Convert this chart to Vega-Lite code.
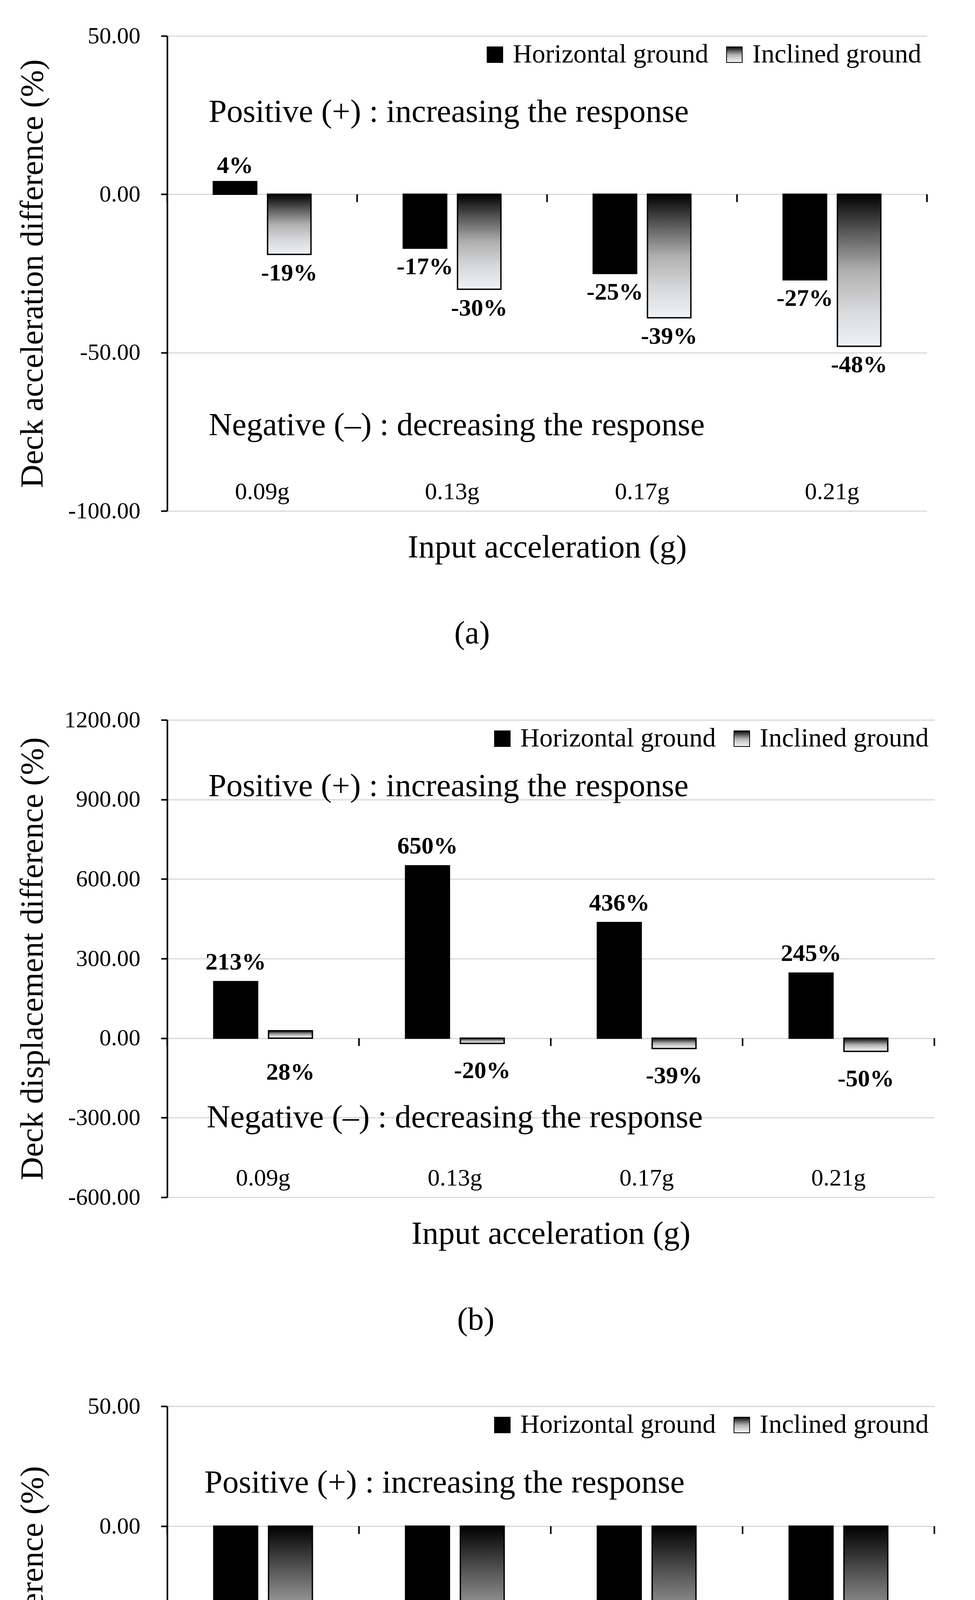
{
  "$schema": "https://vega.github.io/schema/vega-lite/v6.json",
  "background": "white",
  "padding": {"left": 42, "top": 62, "right": 10, "bottom": 5},
  "spacing": 150,
  "datasets": {
    "accel": [
      {"g": "0.09g", "series": "Horizontal ground", "value": 4},
      {"g": "0.09g", "series": "Inclined ground", "value": -19},
      {"g": "0.13g", "series": "Horizontal ground", "value": -17},
      {"g": "0.13g", "series": "Inclined ground", "value": -30},
      {"g": "0.17g", "series": "Horizontal ground", "value": -25},
      {"g": "0.17g", "series": "Inclined ground", "value": -39},
      {"g": "0.21g", "series": "Horizontal ground", "value": -27},
      {"g": "0.21g", "series": "Inclined ground", "value": -48}
    ],
    "disp": [
      {"g": "0.09g", "series": "Horizontal ground", "value": 213},
      {"g": "0.09g", "series": "Inclined ground", "value": 28},
      {"g": "0.13g", "series": "Horizontal ground", "value": 650},
      {"g": "0.13g", "series": "Inclined ground", "value": -20},
      {"g": "0.17g", "series": "Horizontal ground", "value": 436},
      {"g": "0.17g", "series": "Inclined ground", "value": -39},
      {"g": "0.21g", "series": "Horizontal ground", "value": 245},
      {"g": "0.21g", "series": "Inclined ground", "value": -50}
    ],
    "moment": [
      {"g": "0.09g", "series": "Horizontal ground", "value": -72},
      {"g": "0.09g", "series": "Inclined ground", "value": -75},
      {"g": "0.13g", "series": "Horizontal ground", "value": -77},
      {"g": "0.13g", "series": "Inclined ground", "value": -79},
      {"g": "0.17g", "series": "Horizontal ground", "value": -77},
      {"g": "0.17g", "series": "Inclined ground", "value": -82},
      {"g": "0.21g", "series": "Horizontal ground", "value": -77},
      {"g": "0.21g", "series": "Inclined ground", "value": -84}
    ]
  },
  "vconcat": [
    {
      "title": "(a)",
      "width": 1945,
      "height": 1216,
      "data": {"name": "accel"},
      "encoding": {
        "y": {"type": "quantitative", "title": "Deck acceleration difference (%)",
              "scale": {"domain": [-100, 50], "nice": false},
              "axis": {"values": [-100, -50, 0, 50]}}
      },
      "layer": [
        {
          "encoding": {
            "x": {"field": "g", "type": "nominal",
                  "scale": {"paddingInner": 0.486, "paddingOuter": 0.243},
                  "axis": {"title": "Input acceleration (g)"}},
            "xOffset": {"field": "series", "scale": {"paddingInner": 0.2, "paddingOuter": 0}}
          },
          "layer": [
            {
              "mark": {"type": "bar", "stroke": "black", "strokeWidth": 3.5},
              "encoding": {
                "y": {"field": "value"},
                "fill": {"field": "series", "type": "nominal", "title": null,
                         "scale": {"domain": ["Horizontal ground", "Inclined ground"],
                                   "range": ["#000000", {"expr": "{gradient: 'linear', x1: 0, y1: 0, x2: 0, y2: 1, stops: [{offset: 0, color: '#000000'}, {offset: 0.25, color: '#5a5a5a'}, {offset: 0.5, color: '#afafaf'}, {offset: 0.75, color: '#d6d7d9'}, {offset: 1, color: '#eff3f6'}]}"}]}}
              }
            },
            {
              "mark": {"type": "rule", "color": "black", "strokeWidth": 4},
              "encoding": {"y": {"datum": 0}}
            },
            {
              "transform": [{"filter": "datum.value >= 0"}, {"calculate": "datum.value + '%'", "as": "lbl"}],
              "mark": {"type": "text", "fontWeight": "bold", "fontSize": 62, "baseline": "middle", "dy": -41},
              "encoding": {"y": {"field": "value"}, "text": {"field": "lbl"}}
            },
            {
              "transform": [{"filter": "datum.value < 0"}, {"calculate": "datum.value + '%'", "as": "lbl"}],
              "mark": {"type": "text", "fontWeight": "bold", "fontSize": 62, "baseline": "middle", "dy": 48},
              "encoding": {"y": {"field": "value"}, "text": {"field": "lbl"}}
            },
            {
              "data": {"values": [{}]},
              "mark": {"type": "text", "fontSize": 83, "align": "left", "baseline": "middle", "dx": -12},
              "encoding": {"x": {"datum": "0.09g", "bandPosition": 0}, "xOffset": {"value": 0}, "y": {"datum": 26},
                           "text": {"value": "Positive (+) : increasing the response"}}
            },
            {
              "data": {"values": [{}]},
              "mark": {"type": "text", "fontSize": 83, "align": "left", "baseline": "middle", "dx": -12},
              "encoding": {"x": {"datum": "0.09g", "bandPosition": 0}, "xOffset": {"value": 0}, "y": {"datum": -73},
                           "text": {"value": "Negative (–) : decreasing the response"}}
            }
          ]
        },
        {
          "transform": [{"filter": "datum.series == 'Horizontal ground'"}],
          "mark": {"type": "rule", "color": "black", "strokeWidth": 4},
          "encoding": {
            "x": {"field": "g", "type": "nominal", "bandPosition": 0,
                  "scale": {"paddingInner": 0, "paddingOuter": 0}, "axis": null},
            "y": {"datum": 0}, "y2": {"datum": -2.47}
          }
        },
        {
          "transform": [{"filter": "datum.series == 'Horizontal ground' && datum.g == '0.21g'"}],
          "mark": {"type": "rule", "color": "black", "strokeWidth": 4},
          "encoding": {
            "x": {"field": "g", "type": "nominal", "bandPosition": 1,
                  "scale": {"paddingInner": 0, "paddingOuter": 0}, "axis": null},
            "y": {"datum": 0}, "y2": {"datum": -2.47}
          }
        }
      ],
      "resolve": {"scale": {"x": "independent"}}
    },
    {
      "title": "(b)",
      "width": 1964,
      "height": 1222,
      "data": {"name": "disp"},
      "encoding": {
        "y": {"type": "quantitative", "title": "Deck displacement difference (%)",
              "scale": {"domain": [-600, 1200], "nice": false},
              "axis": {"values": [-600, -300, 0, 300, 600, 900, 1200]}}
      },
      "layer": [
        {
          "encoding": {
            "x": {"field": "g", "type": "nominal",
                  "scale": {"paddingInner": 0.486, "paddingOuter": 0.243},
                  "axis": {"title": "Input acceleration (g)"}},
            "xOffset": {"field": "series", "scale": {"paddingInner": 0.2, "paddingOuter": 0}}
          },
          "layer": [
            {
              "mark": {"type": "bar", "stroke": "black", "strokeWidth": 3.5},
              "encoding": {
                "y": {"field": "value"},
                "fill": {"field": "series", "type": "nominal", "title": null,
                         "scale": {"domain": ["Horizontal ground", "Inclined ground"],
                                   "range": ["#000000", {"expr": "{gradient: 'linear', x1: 0, y1: 0, x2: 0, y2: 1, stops: [{offset: 0, color: '#000000'}, {offset: 0.25, color: '#5a5a5a'}, {offset: 0.5, color: '#afafaf'}, {offset: 0.75, color: '#d6d7d9'}, {offset: 1, color: '#eff3f6'}]}"}]}}
              }
            },
            {
              "mark": {"type": "rule", "color": "black", "strokeWidth": 4},
              "encoding": {"y": {"datum": 0}}
            },
            {
              "transform": [{"filter": "datum.series == 'Horizontal ground'"}, {"calculate": "datum.value + '%'", "as": "lbl"}],
              "mark": {"type": "text", "fontWeight": "bold", "fontSize": 62, "baseline": "middle", "dy": -50},
              "encoding": {"y": {"field": "value"}, "text": {"field": "lbl"}}
            },
            {
              "transform": [{"filter": "datum.series == 'Inclined ground' && datum.value < 0"}, {"calculate": "datum.value + '%'", "as": "lbl"}],
              "mark": {"type": "text", "fontWeight": "bold", "fontSize": 62, "baseline": "middle", "dy": 70},
              "encoding": {"y": {"field": "value"}, "text": {"field": "lbl"}}
            },
            {
              "transform": [{"filter": "datum.series == 'Inclined ground' && datum.value >= 0"}, {"calculate": "datum.value + '%'", "as": "lbl"}],
              "mark": {"type": "text", "fontWeight": "bold", "fontSize": 62, "baseline": "middle", "dy": 87},
              "encoding": {"y": {"datum": 0}, "text": {"field": "lbl"}}
            },
            {
              "data": {"values": [{}]},
              "mark": {"type": "text", "fontSize": 83, "align": "left", "baseline": "middle", "dx": -14},
              "encoding": {"x": {"datum": "0.09g", "bandPosition": 0}, "xOffset": {"value": 0}, "y": {"datum": 950},
                           "text": {"value": "Positive (+) : increasing the response"}}
            },
            {
              "data": {"values": [{}]},
              "mark": {"type": "text", "fontSize": 83, "align": "left", "baseline": "middle", "dx": -18},
              "encoding": {"x": {"datum": "0.09g", "bandPosition": 0}, "xOffset": {"value": 0}, "y": {"datum": -299},
                           "text": {"value": "Negative (–) : decreasing the response"}}
            }
          ]
        },
        {
          "transform": [{"filter": "datum.series == 'Horizontal ground'"}],
          "mark": {"type": "rule", "color": "black", "strokeWidth": 4},
          "encoding": {
            "x": {"field": "g", "type": "nominal", "bandPosition": 0,
                  "scale": {"paddingInner": 0, "paddingOuter": 0}, "axis": null},
            "y": {"datum": 0}, "y2": {"datum": -29.5}
          }
        },
        {
          "transform": [{"filter": "datum.series == 'Horizontal ground' && datum.g == '0.21g'"}],
          "mark": {"type": "rule", "color": "black", "strokeWidth": 4},
          "encoding": {
            "x": {"field": "g", "type": "nominal", "bandPosition": 1,
                  "scale": {"paddingInner": 0, "paddingOuter": 0}, "axis": null},
            "y": {"datum": 0}, "y2": {"datum": -29.5}
          }
        }
      ],
      "resolve": {"scale": {"x": "independent"}}
    },
    {
      "title": "(c)",
      "width": 1964,
      "height": 1228,
      "data": {"name": "moment"},
      "encoding": {
        "y": {"type": "quantitative", "title": "Pile moment difference (%)",
              "scale": {"domain": [-150, 50], "nice": false},
              "axis": {"values": [-150, -100, -50, 0, 50]}}
      },
      "layer": [
        {
          "encoding": {
            "x": {"field": "g", "type": "nominal",
                  "scale": {"paddingInner": 0.486, "paddingOuter": 0.243},
                  "axis": {"title": "Input acceleration (g)"}},
            "xOffset": {"field": "series", "scale": {"paddingInner": 0.2, "paddingOuter": 0}}
          },
          "layer": [
            {
              "mark": {"type": "bar", "stroke": "black", "strokeWidth": 3.5},
              "encoding": {
                "y": {"field": "value"},
                "fill": {"field": "series", "type": "nominal", "title": null,
                         "scale": {"domain": ["Horizontal ground", "Inclined ground"],
                                   "range": ["#000000", {"expr": "{gradient: 'linear', x1: 0, y1: 0, x2: 0, y2: 1, stops: [{offset: 0, color: '#000000'}, {offset: 0.25, color: '#5a5a5a'}, {offset: 0.5, color: '#afafaf'}, {offset: 0.75, color: '#d6d7d9'}, {offset: 1, color: '#f9f9f9'}]}"}]}}
              }
            },
            {
              "mark": {"type": "rule", "color": "black", "strokeWidth": 4},
              "encoding": {"y": {"datum": 0}}
            },
            {
              "transform": [{"filter": "datum.series == 'Horizontal ground'"}, {"calculate": "datum.value + '%'", "as": "lbl"}],
              "mark": {"type": "text", "fontWeight": "bold", "fontSize": 62, "baseline": "middle", "dy": 38},
              "encoding": {"y": {"field": "value"}, "text": {"field": "lbl"}}
            },
            {
              "transform": [{"filter": "datum.series == 'Inclined ground'"}, {"calculate": "datum.value + '%'", "as": "lbl"}],
              "mark": {"type": "text", "fontWeight": "bold", "fontSize": 62, "baseline": "middle", "dy": 70},
              "encoding": {"y": {"field": "value"}, "text": {"field": "lbl"}}
            },
            {
              "data": {"values": [{}]},
              "mark": {"type": "text", "fontSize": 83, "align": "left", "baseline": "middle", "dx": -24},
              "encoding": {"x": {"datum": "0.09g", "bandPosition": 0}, "xOffset": {"value": 0}, "y": {"datum": 18},
                           "text": {"value": "Positive (+) : increasing the response"}}
            },
            {
              "data": {"values": [{}]},
              "mark": {"type": "text", "fontSize": 83, "align": "left", "baseline": "middle", "dx": -27},
              "encoding": {"x": {"datum": "0.09g", "bandPosition": 0}, "xOffset": {"value": 0}, "y": {"datum": -113},
                           "text": {"value": "Negative (–) : decreasing the response"}}
            }
          ]
        },
        {
          "transform": [{"filter": "datum.series == 'Horizontal ground'"}],
          "mark": {"type": "rule", "color": "black", "strokeWidth": 4},
          "encoding": {
            "x": {"field": "g", "type": "nominal", "bandPosition": 0,
                  "scale": {"paddingInner": 0, "paddingOuter": 0}, "axis": null},
            "y": {"datum": 0}, "y2": {"datum": -3.26}
          }
        },
        {
          "transform": [{"filter": "datum.series == 'Horizontal ground' && datum.g == '0.21g'"}],
          "mark": {"type": "rule", "color": "black", "strokeWidth": 4},
          "encoding": {
            "x": {"field": "g", "type": "nominal", "bandPosition": 1,
                  "scale": {"paddingInner": 0, "paddingOuter": 0}, "axis": null},
            "y": {"datum": 0}, "y2": {"datum": -3.26}
          }
        }
      ],
      "resolve": {"scale": {"x": "independent"}}
    }
  ],
  "resolve": {
    "scale": {"x": "independent", "y": "independent", "fill": "independent", "xOffset": "independent"},
    "legend": {"fill": "independent"}
  },
  "config": {
    "font": "Liberation Serif",
    "view": {"stroke": null},
    "text": {"font": "Liberation Serif", "color": "black"},
    "axis": {
      "labelFont": "Liberation Serif", "titleFont": "Liberation Serif",
      "labelColor": "black", "titleColor": "black", "titleFontWeight": "normal"
    },
    "axisY": {
      "labelExpr": "replace(format(datum.value, '.2f'), '−', '-')",
      "labelFontSize": 60, "labelLimit": 400, "titleFontSize": 83,
      "domainColor": "black", "domainWidth": 4,
      "tickColor": "black", "tickWidth": 4, "tickSize": 16,
      "labelPadding": 53, "titlePadding": 103,
      "grid": true, "gridColor": "#d9d9d9", "gridWidth": 3
    },
    "axisX": {
      "labelAngle": 0, "labelFontSize": 62, "titleFontSize": 83,
      "labelPadding": -50, "labelBaseline": "middle",
      "ticks": false, "domain": false, "grid": false, "titlePadding": 52
    },
    "legend": {
      "orient": "top-right", "direction": "horizontal", "offset": 14, "padding": 0,
      "labelFont": "Liberation Serif", "labelFontSize": 68, "labelColor": "black", "labelLimit": 1000,
      "labelOffset": 12, "columnPadding": 32,
      "symbolType": "square", "symbolSize": 1600, "symbolOpacity": 1,
      "symbolStrokeColor": "black", "symbolStrokeWidth": 2
    },
    "title": {
      "orient": "bottom", "anchor": "middle", "frame": "bounds", "offset": 139,
      "font": "Liberation Serif", "fontSize": 82, "fontWeight": "normal", "color": "black"
    }
  }
}
